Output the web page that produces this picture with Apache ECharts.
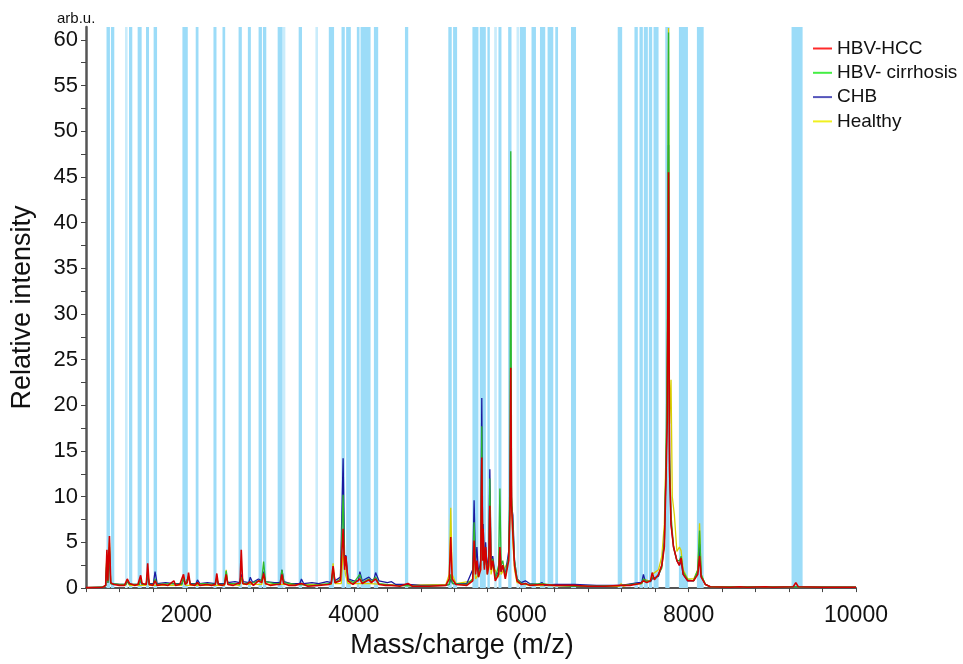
<!DOCTYPE html>
<html>
<head>
<meta charset="utf-8">
<script src="https://cdn.jsdelivr.net/npm/echarts@6/dist/echarts.min.js"></script>
<style>
  html, body { margin: 0; padding: 0; background: #fff; }
  #chart { width: 963px; height: 664px; }
</style>
</head>
<body>
<div id="chart"></div>
<script>
// m/z ranges of the highlighted (blue) windows
var bands = [
  [1045,1086],[1098,1138],[1314,1353],[1417,1465],[1517,1553],[1608,1649],[1952,2016],
  [2111,2144],[2323,2359],[2431,2463],[2623,2662],[2734,2770],[2862,2902],[2914,2954],
  [3090,3150],[3341,3381],[3701,3764],[3853,3892],[3908,3964],[4036,4068],[4080,4200],
  [4240,4291],[4611,4650],[5129,5170],[5186,5234],[5417,5489],[5505,5577],[5596,5625],
  [5728,5764],[5844,5884],[5984,6056],[6123,6176],[6224,6287],[6315,6383],[6407,6440],
  [6595,6655],[7153,7206],[7353,7393],[7413,7453],[7465,7513],[7525,7565],[7581,7641],
  [7721,7772],[7884,7992],[8099,8180],[9230,9362]
];
var lightBands = [[1266,1297],[3150,3182],[3541,3572],[5677,5709],[5944,5976]];

var xLabels = [2000, 4000, 6000, 8000, 10000];
var yLabels = [0, 5, 10, 15, 20, 25, 30, 35, 40, 45, 50, 55, 60];
var yTicks = [0,2.5,5,7.5,10,12.5,15,17.5,20,22.5,25,27.5,30,32.5,35,37.5,40,42.5,45,47.5,50,52.5,55,57.5,60];

var names = ['HBV-HCC', 'HBV- cirrhosis', 'CHB', 'Healthy'];

// [m/z, relative intensity]
var hcc = [
  [800,0.05],[1000,0.1],[1035,0.3],[1050,4.2],[1060,0.8],[1080,5.7],[1095,0.6],[1130,0.4],[1200,0.3],[1260,0.3],
  [1293,1.0],[1320,0.5],[1380,0.3],[1420,0.4],[1453,1.4],[1470,0.5],[1520,0.4],[1537,2.7],[1555,0.4],[1600,0.3],
  [1625,0.8],[1650,0.3],[1720,0.4],[1780,0.3],[1850,0.8],[1870,0.3],[1920,0.4],[1965,1.5],[1985,0.4],[2010,0.6],
  [2025,1.7],[2045,0.4],[2100,0.3],[2132,0.6],[2160,0.3],[2250,0.4],[2300,0.3],[2345,0.4],[2363,1.6],[2380,0.4],
  [2430,0.3],[2455,0.4],[2475,1.5],[2495,0.4],[2560,0.3],[2610,0.5],[2640,0.5],[2655,4.2],[2672,0.5],[2720,0.4],
  [2763,0.7],[2800,0.3],[2860,0.8],[2900,0.6],[2922,1.6],[2945,0.5],[3000,0.3],[3080,0.4],[3120,0.4],[3141,1.5],
  [3160,0.5],[3220,0.3],[3300,0.3],[3374,0.5],[3450,0.2],[3580,0.3],[3700,0.4],[3730,0.5],[3752,2.4],[3775,0.6],
  [3840,0.8],[3872,6.5],[3890,2.0],[3905,3.5],[3930,0.8],[3990,0.4],[4072,1.0],[4100,0.5],[4180,0.9],[4210,0.6],
  [4260,1.0],[4300,0.4],[4380,0.3],[4451,0.3],[4550,0.2],[4647,0.5],[4700,0.2],[4900,0.2],[5100,0.3],[5140,1.0],
  [5158,5.6],[5175,1.0],[5220,0.4],[5350,0.3],[5420,0.8],[5437,5.2],[5455,1.5],[5470,3.0],[5490,1.2],[5515,2.0],
  [5529,14.3],[5540,3.0],[5545,6.5],[5560,2.0],[5575,4.5],[5595,1.5],[5612,2.5],[5625,9.0],[5640,2.0],[5660,3.0],
  [5690,0.8],[5730,1.5],[5745,4.5],[5760,1.8],[5780,2.5],[5810,1.0],[5850,3.0],[5865,8.0],[5875,24.1],[5885,9.0],
  [5900,6.0],[5920,2.5],[5950,0.8],[6000,0.4],[6050,0.5],[6100,0.3],[6250,0.4],[6400,0.3],[6635,0.3],[6800,0.2],
  [7000,0.2],[7194,0.3],[7300,0.3],[7420,0.5],[7460,0.8],[7500,0.6],[7545,0.8],[7565,1.7],[7590,0.9],[7640,1.5],
  [7680,2.5],[7710,4.5],[7730,12],[7745,18.5],[7760,45.5],[7772,13],[7790,7],[7820,4.5],[7860,3.0],[7890,2.5],
  [7910,3.3],[7935,1.5],[7990,0.8],[8060,0.8],[8110,1.5],[8131,3.5],[8150,1.2],[8200,0.4],[8260,0.15],[8500,0.1],
  [8610,0.15],[8700,0.1],[8920,0.15],[9000,0.1],[9250,0.15],[9281,0.6],[9310,0.15],[9600,0.1],[10000,0.1]
];
var cirrhosis = [
  [800,0.05],[1000,0.1],[1035,0.3],[1050,3.5],[1062,0.6],[1080,4.5],[1095,0.5],[1200,0.4],[1275,0.4],[1293,0.9],
  [1320,0.4],[1435,0.4],[1453,1.0],[1470,0.4],[1520,0.4],[1537,1.8],[1555,0.4],[1605,0.4],[1625,1.0],[1650,0.4],
  [1800,0.5],[1945,0.4],[1965,1.2],[1985,0.4],[2005,0.4],[2025,1.3],[2045,0.4],[2200,0.5],[2345,0.4],[2363,1.2],
  [2380,0.4],[2455,0.4],[2475,1.9],[2495,0.5],[2600,0.5],[2635,0.4],[2655,1.2],[2680,0.5],[2800,0.6],[2900,0.9],
  [2922,2.9],[2945,0.7],[3050,0.5],[3120,0.5],[3141,2.0],[3165,0.6],[3300,0.4],[3500,0.3],[3700,0.5],[3730,0.5],
  [3752,1.8],[3775,0.6],[3840,1.0],[3872,10.2],[3890,2.5],[3905,3.0],[3930,0.9],[4000,0.6],[4072,1.5],[4100,0.6],
  [4180,1.0],[4210,0.7],[4260,1.2],[4300,0.5],[4500,0.3],[4800,0.2],[5100,0.3],[5140,0.4],[5158,1.5],[5180,0.5],
  [5350,0.4],[5420,1.0],[5437,7.2],[5455,1.8],[5470,2.5],[5490,1.2],[5515,2.5],[5529,17.7],[5540,3.5],[5545,6.0],
  [5560,2.2],[5575,4.0],[5595,1.5],[5612,3.0],[5625,12.0],[5640,2.5],[5660,3.2],[5690,1.0],[5730,2.5],[5745,10.9],
  [5760,2.5],[5780,3.0],[5810,1.2],[5850,3.5],[5865,12],[5875,47.8],[5885,10],[5900,7.0],[5920,3.0],[5950,1.0],
  [6000,0.5],[6100,0.4],[6250,0.5],[6400,0.3],[6615,0.2],[6635,0.4],[6655,0.2],[6900,0.2],[7194,0.3],[7400,0.5],
  [7440,0.5],[7460,1.0],[7500,0.7],[7545,0.8],[7565,1.2],[7600,1.0],[7640,1.5],[7680,2.2],[7710,5],[7730,14],
  [7745,26.6],[7760,60.8],[7772,15],[7790,8],[7820,4.5],[7860,3.0],[7890,3.0],[7910,3.5],[7935,1.8],[7990,0.9],
  [8060,0.8],[8110,2.0],[8131,6.3],[8150,1.5],[8200,0.4],[8260,0.15],[10000,0.1]
];
var chb = [
  [800,0.05],[1000,0.1],[1035,0.3],[1050,3.0],[1062,0.6],[1080,4.0],[1095,0.5],[1200,0.4],[1275,0.4],[1293,0.8],
  [1320,0.4],[1435,0.4],[1453,0.9],[1470,0.4],[1520,0.4],[1537,1.5],[1555,0.5],[1605,0.5],[1625,1.8],[1650,0.5],
  [1750,0.6],[1850,0.5],[1945,0.5],[1965,1.0],[1990,0.5],[2005,0.5],[2025,1.2],[2045,0.5],[2115,0.5],[2132,0.9],
  [2160,0.5],[2250,0.6],[2345,0.5],[2363,1.0],[2380,0.5],[2455,0.5],[2475,1.2],[2495,0.6],[2580,0.7],[2635,0.6],
  [2655,1.5],[2680,0.7],[2745,0.6],[2763,1.2],[2790,0.6],[2860,1.0],[2900,0.8],[2922,1.8],[2945,0.7],[3050,0.6],
  [3120,0.6],[3141,2.0],[3165,0.7],[3250,0.5],[3355,0.5],[3374,1.0],[3400,0.5],[3500,0.6],[3580,0.5],[3680,0.7],
  [3730,0.6],[3752,2.0],[3775,0.8],[3840,1.2],[3872,14.2],[3890,3.0],[3905,3.6],[3930,1.0],[4000,0.8],[4055,0.8],
  [4072,1.8],[4100,0.8],[4180,1.2],[4210,0.9],[4240,0.9],[4260,1.7],[4300,0.8],[4400,0.6],[4451,0.7],[4500,0.4],
  [4647,0.4],[4800,0.3],[5100,0.3],[5140,0.4],[5158,1.0],[5180,0.5],[5350,0.5],[5420,2.0],[5437,9.6],[5455,2.5],
  [5470,4.5],[5490,1.5],[5515,3.0],[5529,20.8],[5540,4.0],[5545,7.0],[5560,2.5],[5575,5.0],[5595,2.0],[5612,3.5],
  [5625,13.0],[5640,3.0],[5660,3.5],[5690,1.2],[5730,1.8],[5745,3.5],[5760,1.8],[5780,2.5],[5810,1.5],[5850,4.0],
  [5865,10],[5875,18.0],[5885,9],[5900,8.0],[5920,3.0],[5950,1.0],[6000,0.6],[6050,0.8],[6100,0.5],[6200,0.4],
  [6250,0.6],[6280,0.3],[6400,0.4],[6635,0.4],[6900,0.3],[7194,0.3],[7400,0.6],[7440,0.6],[7460,1.5],[7480,0.8],
  [7545,0.7],[7565,1.0],[7640,1.3],[7680,2.5],[7710,5],[7730,13],[7745,20],[7760,48.5],[7772,14],[7790,7],
  [7820,4.5],[7860,3.0],[7890,2.5],[7910,3.0],[7935,1.5],[7990,0.8],[8060,0.8],[8110,1.8],[8131,4.8],[8150,1.3],
  [8200,0.4],[8260,0.15],[10000,0.1]
];
var healthy = [
  [800,0.05],[1000,0.1],[1035,0.3],[1050,3.8],[1062,0.6],[1080,5.0],[1095,0.5],[1275,0.3],[1293,0.7],[1320,0.3],
  [1515,0.3],[1537,1.5],[1555,0.3],[1945,0.3],[1965,1.0],[1990,0.3],[2455,0.3],[2475,2.0],[2495,0.4],[2635,0.3],
  [2655,1.0],[2680,0.4],[2900,0.4],[2922,1.5],[2945,0.4],[3730,0.4],[3752,2.7],[3775,0.5],[3850,0.5],[3872,4.0],
  [3900,1.5],[3930,0.5],[4200,0.5],[4500,0.3],[5100,0.4],[5140,1.5],[5158,8.8],[5175,1.5],[5220,0.5],[5420,0.8],
  [5437,4.0],[5455,1.0],[5515,2.0],[5529,10],[5545,4.5],[5575,3.5],[5612,2.0],[5625,6.0],[5640,1.5],[5660,2.5],
  [5730,1.2],[5745,3.0],[5760,1.5],[5850,3.0],[5875,12],[5900,5.0],[5920,2.0],[5950,0.6],[6100,0.3],[7170,0.2],
  [7194,0.5],[7215,0.2],[7300,0.4],[7440,0.5],[7460,1.0],[7545,0.7],[7565,1.5],[7640,2.0],[7680,3.5],[7710,7],
  [7730,15],[7745,20],[7760,61.3],[7772,18],[7790,22.8],[7805,10],[7830,8],[7860,4.0],[7890,4.5],[7910,4.1],
  [7935,2.0],[7990,1.0],[8060,1.0],[8110,2.0],[8131,7.1],[8150,1.5],[8200,0.4],[8260,0.15],[10000,0.1]
];

var lineColors = ['#d40000', '#2db82d', '#1a1aa0', '#d8d000'];
var legendColors = ['#ff2a2a', '#44ee44', '#5555bb', '#f0f020'];
var font = 'Liberation Sans, Arial, sans-serif';

var chart = echarts.init(document.getElementById('chart'));

var areaData = [];
for (var i = 0; i < bands.length; i++) {
  areaData.push([{ xAxis: bands[i][0], itemStyle: { color: '#9cdcf8' } }, { xAxis: bands[i][1] }]);
}
for (var j = 0; j < lightBands.length; j++) {
  areaData.push([{ xAxis: lightBands[j][0], itemStyle: { color: '#c9ecfb' } }, { xAxis: lightBands[j][1] }]);
}

function spectrum(idx, data) {
  return {
    name: names[idx],
    type: 'line',
    data: data,
    z: 3,
    showSymbol: false,
    symbol: 'none',
    sampling: null,
    color: lineColors[idx],
    lineStyle: { width: idx === 0 ? 1.6 : 1.3, color: lineColors[idx] }
  };
}

chart.setOption({
  animation: false,
  textStyle: { fontFamily: font },
  grid: { left: 86, right: 107, top: 27, bottom: 71 },
  legend: {
    orient: 'vertical',
    left: 813,
    top: 39,
    padding: 0,
    itemGap: 5.3,
    itemWidth: 19,
    itemHeight: 2,
    icon: 'rect',
    textStyle: { fontSize: 19, color: '#111', fontFamily: font },
    data: [
      { name: names[0], itemStyle: { color: legendColors[0] } },
      { name: names[1], itemStyle: { color: legendColors[1] } },
      { name: names[2], itemStyle: { color: legendColors[2] } },
      { name: names[3], itemStyle: { color: legendColors[3] } }
    ]
  },
  xAxis: {
    type: 'value',
    min: 800,
    max: 10000,
    interval: 400,
    offset: 3,
    name: 'Mass/charge (m/z)',
    nameLocation: 'middle',
    nameGap: 38,
    nameTextStyle: { fontSize: 27, color: '#111', fontFamily: font, padding: [0, 18, 0, 0] },
    axisLine: { lineStyle: { color: '#555', width: 2 } },
    axisTick: { length: 4, lineStyle: { color: '#444' } },
    axisLabel: {
      customValues: xLabels, fontSize: 23, color: '#111', margin: 13, fontFamily: font,
      formatter: function (v) { return String(v); }
    },
    splitLine: { show: false }
  },
  yAxis: {
    type: 'value',
    min: 0,
    max: 61.4,
    interval: 2.5,
    name: 'Relative intensity',
    nameLocation: 'middle',
    nameGap: 50,
    nameTextStyle: { fontSize: 27, color: '#111', fontFamily: font },
    axisLine: { show: true, lineStyle: { color: '#555', width: 2.5 } },
    axisTick: { show: true, customValues: yTicks, length: 5, lineStyle: { color: '#444' } },
    axisLabel: {
      customValues: yLabels, fontSize: 22, color: '#111', margin: 8, fontFamily: font,
      formatter: function (v) { return String(v); }
    },
    splitLine: { show: false }
  },
  graphic: [{
    type: 'text',
    left: 57,
    top: 11,
    style: { text: 'arb.u.', fontSize: 15, fill: '#111', fontFamily: font }
  }],
  series: [
    {
      name: 'bands',
      type: 'line',
      data: [],
      z: 1,
      silent: true,
      markArea: { silent: true, data: areaData }
    },
    spectrum(3, healthy),
    spectrum(2, chb),
    spectrum(1, cirrhosis),
    spectrum(0, hcc)
  ]
});
</script>
</body>
</html>
